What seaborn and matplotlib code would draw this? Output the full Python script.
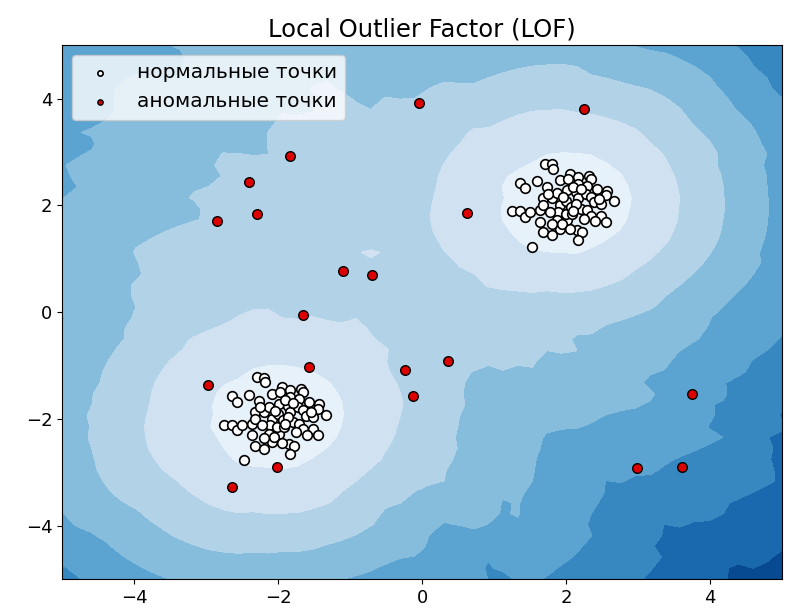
import numpy as np
import matplotlib
matplotlib.use('Agg')
import matplotlib.pyplot as plt
import seaborn as sns

# offsets of one cluster around its centre (both clusters share the same shape)
cluster_dx = [-0.29, -0.20, -0.19, -0.64, -0.57, -0.40, -0.27, -0.08, 0.05, 0.03,
              0.16, 0.16, 0.31, 0.34, 0.29, 0.43, 0.57, 0.55, 0.66, -0.75,
              -0.64, -0.57, -0.50, -0.36, -0.32, -0.32, -0.20, -0.13, -0.08, 0.00,
              0.01, 0.13, 0.17, 0.27, 0.34, 0.38, 0.48, 0.20, 0.29, 0.34,
              0.48, 0.55, -0.36, -0.32, -0.20, -0.08, 0.01, -0.11, -0.01, 0.08,
              0.15, 0.22, 0.17, -0.47, 0.06, 0.13, -0.22, -0.13, -0.06, 0.10,
              0.20, -0.05, 0.25, 0.10, -0.20, 0.40, 0.05, -0.25, 0.45]
cluster_dy = [0.78, 0.77, 0.69, 0.42, 0.32, 0.45, 0.34, 0.47, 0.59, 0.50,
              0.54, 0.41, 0.56, 0.50, 0.37, 0.31, 0.27, 0.19, 0.08, -0.11,
              -0.11, -0.21, -0.12, -0.09, 0.13, 0.00, 0.13, 0.23, 0.00, 0.09,
              0.28, 0.25, 0.13, 0.22, 0.16, 0.06, 0.03, -0.06, -0.09, -0.19,
              -0.19, -0.31, -0.31, -0.50, -0.56, -0.44, -0.28, -0.12, -0.16, -0.16,
              -0.47, -0.50, -0.65, -0.78, -0.03, 0.03, -0.12, -0.28, -0.34, 0.35,
              0.30, 0.15, -0.25, -0.10, -0.35, -0.30, -0.45, 0.22, 0.12]
cluster_centres = [(2.0, 2.0), (-2.0, -2.0)]

outlier_x = [-0.04, 2.24, -1.83, -2.41, -2.85, -2.29, 0.62, -1.10, -0.70, -1.66,
             -1.57, -2.98, -0.24, 0.36, -0.13, 3.75, -2.01, -2.64, 2.98, 3.61]
outlier_y = [3.91, 3.81, 2.93, 2.43, 1.70, 1.83, 1.85, 0.77, 0.69, -0.06,
             -1.03, -1.36, -1.08, -0.92, -1.57, -1.53, -2.90, -3.27, -2.93, -2.90]

labels = ['нормальные точки', 'аномальные точки']

normal = np.vstack([np.c_[np.array(cluster_dx) + cx, np.array(cluster_dy) + cy]
                    for cx, cy in cluster_centres])
outliers = np.c_[outlier_x, outlier_y]
X = np.vstack([normal, outliers])

# Local Outlier Factor on a grid (k = 20)
k = 20
D = np.sqrt(((X[:, None, :] - X[None, :, :]) ** 2).sum(-1))
np.fill_diagonal(D, np.inf)
nb = np.argsort(D, axis=1)[:, :k]
kdist = np.take_along_axis(D, nb, axis=1)[:, -1]
reach = np.maximum(kdist[nb], np.take_along_axis(D, nb, axis=1))
lrd = 1.0 / (reach.mean(axis=1) + 1e-10)

xx, yy = np.meshgrid(np.linspace(-5, 5, 50), np.linspace(-5, 5, 50))
G = np.c_[xx.ravel(), yy.ravel()]
DG = np.sqrt(((G[:, None, :] - X[None, :, :]) ** 2).sum(-1))
nbg = np.argsort(DG, axis=1)[:, :k]
dg = np.take_along_axis(DG, nbg, axis=1)
lrd_g = 1.0 / (np.maximum(kdist[nbg], dg).mean(axis=1) + 1e-10)
lof = lrd[nbg].mean(axis=1) / lrd_g
Z = (-lof).reshape(xx.shape)

fig = plt.figure(figsize=(7.87, 6.12), dpi=100)
ax = fig.add_axes([0.079, 0.054, 0.915, 0.872])
span = Z.max() - Z.min()
ax.contourf(xx, yy, Z, levels=9, cmap=plt.cm.Blues_r,
            vmin=Z.min() - 0.15 * span, vmax=Z.max() + 0.12 * span)

sns.scatterplot(x=normal[:, 0], y=normal[:, 1], color='white', edgecolor='k',
                s=48, linewidth=1.2, ax=ax, label=labels[0])
sns.scatterplot(x=outliers[:, 0], y=outliers[:, 1], color='#dd0000', edgecolor='k',
                s=48, linewidth=1.0, ax=ax, label=labels[1])

ax.set_xlim(-5, 5)
ax.set_ylim(-5, 5)
ax.set_xticks([-4, -2, 0, 2, 4])
ax.set_yticks([-4, -2, 0, 2, 4])
ax.tick_params(labelsize=13)
ax.set_title('Local Outlier Factor (LOF)', fontsize=17.5)
ax.legend(loc='upper left', fontsize=14.5, markerscale=0.55)

plt.savefig('out.png')
